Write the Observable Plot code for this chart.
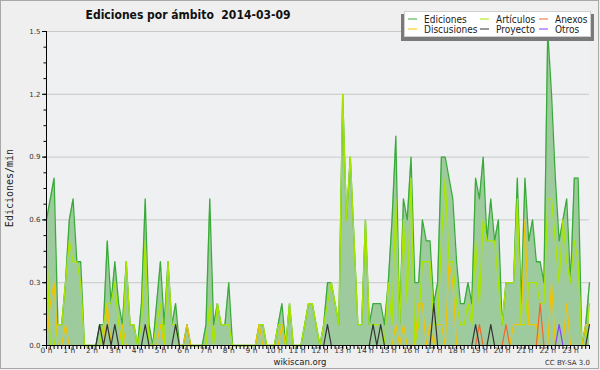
<!DOCTYPE html>
<html><head><meta charset="utf-8">
<script src="https://cdn.jsdelivr.net/npm/d3@7"></script>
<script src="https://cdn.jsdelivr.net/npm/@observablehq/plot@0.6"></script>
<style>
html,body{margin:0;padding:0;background:#efefef;}
#wrap{position:relative;width:600px;height:370px;overflow:hidden;background:#efefef;}
#wrap svg{position:absolute;left:0;top:0;}
</style></head><body><div id="wrap"></div>
<script>
// 10-minute samples, 0h00 .. 23h50 (edits per minute)
const ediciones = [
 0.6,0.7,0.8,0.1,0.1,0.3, 0.6,0.7,0.4,0.4,0,0, 0,0,0.1,0.1,0.5,0.2, 0.4,0.2,0.1,0.4,0.1,0.1,
 0,0.2,0.7,0.1,0,0.2, 0.4,0.1,0.4,0.1,0.2,0, 0,0.1,0,0,0,0, 0.1,0.7,0.1,0.2,0.1,0.1,
 0.3,0,0,0,0,0, 0,0,0.1,0.1,0,0, 0,0.1,0.2,0,0.2,0, 0,0,0.1,0.2,0.2,0.1,
 0,0.1,0.3,0.3,0.2,0.1, 1.2,0.6,0.9,0.5,0.1,0.1, 0.6,0.1,0.2,0.2,0.2,0.1, 0.3,0.6,1.0,0.1,0.7,0.6,
 0.9,0.3,0.3,0.6,0.5,0.5, 0.2,0.3,0.9,0.9,0.8,0.7, 0.4,0.2,0.2,0.3,0.2,0.8, 0.7,0.9,0.5,0.7,0.5,0.6,
 0.1,0.3,0.3,0.3,0.8,0.2, 0.8,0.5,0.6,0.4,0.4,0.3, 1.5,1.2,0.8,0.5,0.6,0.7, 0.3,0.8,0.8,0,0.1,0.3
];
const articulos = [
 0.5,0,0,0.1,0.1,0.3, 0.5,0.4,0.4,0.3,0,0, 0,0,0,0.1,0.2,0.2, 0.3,0.1,0,0.4,0.1,0.1,
 0,0.1,0.5,0,0,0.1, 0.2,0,0.4,0.1,0.1,0, 0,0,0,0,0,0, 0,0.2,0,0.2,0.1,0.1,
 0.1,0,0,0,0,0, 0,0,0.1,0.1,0,0, 0,0.1,0.1,0,0.2,0, 0,0,0.1,0.2,0.2,0.1,
 0,0.1,0.2,0.3,0.2,0.1, 1.2,0.6,0.9,0.5,0.1,0.1, 0.6,0.1,0.1,0.1,0.1,0, 0.3,0.1,0.7,0.1,0.6,0.2,
 0.8,0,0.1,0.4,0.4,0.4, 0.1,0.1,0.5,0.8,0.4,0.4, 0.2,0.1,0.1,0.2,0.1,0.5, 0.2,0.6,0.5,0.5,0.5,0.3,
 0.1,0.3,0.3,0.3,0.7,0.1, 0.1,0.3,0.3,0.3,0.2,0.2, 0.7,0.7,0.5,0.3,0.6,0.4, 0.3,0.5,0.4,0,0,0.2
];
const discusiones = [
 0,0.2,0.3,0,0,0.1, 0,0,0,0,0,0, 0,0,0,0,0.2,0, 0,0,0.1,0,0,0,
 0,0,0,0,0,0, 0.1,0,0,0,0,0, 0,0.1,0,0,0,0, 0,0,0,0,0,0,
 0,0,0,0,0,0, 0,0,0.1,0,0,0, 0,0,0.1,0,0,0, 0,0,0,0,0,0,
 0,0,0,0,0,0, 0,0,0,0,0,0, 0,0,0,0,0,0, 0,0,0.1,0,0.1,0,
 0,0,0.2,0.2,0,0.1, 0,0.1,0.1,0,0.4,0.3, 0,0,0,0,0,0, 0,0,0,0,0,0,
 0,0,0,0.1,0.1,0.1, 0.6,0.1,0.1,0.1,0,0, 0,0.3,0,0,0,0.2, 0,0,0,0,0.1,0.1
];
const anexos = [
 0,0,0,0,0,0, 0,0,0,0,0,0, 0,0,0,0,0,0, 0,0,0,0,0,0,
 0,0,0,0,0,0, 0,0,0,0,0,0, 0,0,0,0,0,0, 0,0,0,0,0,0,
 0,0,0,0,0,0, 0,0,0,0,0,0, 0,0,0,0,0,0, 0,0,0,0,0,0,
 0,0,0,0,0,0, 0,0,0,0,0,0, 0,0,0,0,0,0, 0,0,0,0,0,0,
 0,0,0,0,0,0, 0,0,0,0,0,0, 0,0,0,0,0,0, 0.1,0,0,0,0,0,
 0,0.1,0,0,0,0, 0,0,0,0,0.2,0, 0,0,0,0,0,0, 0,0,0,0,0,0
];
const proyecto = [
 0,0,0,0,0,0, 0,0,0,0,0,0, 0,0,0.1,0,0.1,0, 0.1,0,0,0,0,0,
 0,0,0.1,0,0,0, 0,0,0,0,0.1,0, 0,0,0,0,0,0, 0,0,0,0,0,0,
 0,0,0,0,0,0, 0,0,0,0,0,0, 0,0,0,0,0,0, 0,0,0,0,0,0,
 0,0,0.1,0,0,0, 0,0,0,0,0,0, 0,0,0.1,0,0.1,0, 0,0,0,0,0,0,
 0,0,0,0,0,0, 0.2,0,0,0,0,0, 0,0,0,0,0,0.1, 0,0,0,0.1,0,0,
 0,0,0,0,0,0, 0,0,0,0,0,0, 0,0,0,0,0,0, 0,0,0,0,0,0.1
];
const otros = [
 0,0,0,0,0,0, 0,0,0,0,0,0, 0,0,0,0,0,0, 0,0,0,0,0,0,
 0,0,0,0,0,0, 0,0,0,0,0,0, 0,0,0,0,0,0, 0,0,0,0,0,0,
 0,0,0,0,0,0, 0,0,0,0,0,0, 0,0,0,0,0,0, 0,0,0,0,0,0,
 0,0,0,0,0,0, 0,0,0,0,0,0, 0,0,0,0,0,0, 0,0,0,0,0,0,
 0,0,0,0,0,0, 0,0,0,0,0,0, 0,0,0,0,0,0, 0,0,0,0,0,0,
 0,0,0,0,0,0, 0,0,0,0,0,0, 0,0,0,0.1,0,0, 0,0,0,0,0,0
];
const hourTicks = d3.range(0, 24);
const yMajor = [0, 0.3, 0.6, 0.9, 1.2, 1.5];
const seriesNames = ["Ediciones","Artículos","Anexos","Discusiones","Proyecto","Otros"];
const seriesColors = ["#3aab3a","#a8e600","#f2662a","#f2c300","#333333","#8a3ffc"];

const col = Object.fromEntries(seriesNames.map((n,i)=>[n, seriesColors[i]]));
const t = d3.range(ediciones.length).map(i => i/6);
const rows = t.map((x,i)=>({t:x, ed:ediciones[i], ar:articulos[i], di:discusiones[i], an:anexos[i], pr:proyecto[i], ot:otros[i]}));
const yMinor = d3.range(0, 1.5001, 0.075);
const xMinor = t;

const font = "'DejaVu Sans', sans-serif";
const plot = Plot.plot({
  width: 600, height: 370,
  marginLeft: 46, marginRight: 11, marginTop: 31, marginBottom: 25,
  style: {background: "transparent", fontFamily: font, color: "#333"},
  x: {domain: [0, t[t.length-1]], axis: null},
  y: {domain: [0, 1.5], axis: null},
  marks: [
    Plot.frame({fill: "#eef0f1", stroke: null}),
    Plot.ruleY(yMajor.slice(1), {stroke: "#c9c9c9", strokeWidth: 1}),
    Plot.areaY(rows, {x: "t", y: "ed", fill: "#9ecb9e"}),
    Plot.line(rows, {x: "t", y: "ed", stroke: col["Ediciones"], strokeWidth: 1.3}),
    Plot.line(rows, {x: "t", y: "ar", stroke: col["Artículos"], strokeWidth: 1.3}),
    Plot.line(rows, {x: "t", y: "di", stroke: col["Discusiones"], strokeWidth: 1.2}),
    Plot.line(rows, {x: "t", y: "an", stroke: col["Anexos"], strokeWidth: 1.2}),
    Plot.line(rows, {x: "t", y: "pr", stroke: col["Proyecto"], strokeWidth: 1.2}),
    Plot.line(rows, {x: "t", y: "ot", stroke: col["Otros"], strokeWidth: 1.2}),
    Plot.ruleX([0], {stroke: "#000"}),
    Plot.ruleY([0], {stroke: "#000"}),
    Plot.axisY({ticks: yMinor, tickSize: 2.5, tickFormat: () => "", label: null, stroke: "#000"}),
    Plot.axisY({ticks: yMajor, tickSize: 4, tickPadding: 2, tickFormat: d3.format(".1f"), label: null, fontSize: 7, stroke: "#000", fill: "#333"}),
    Plot.axisX({ticks: xMinor, tickSize: 4, tickFormat: () => "", label: null, stroke: "#000"}),
    Plot.axisX({ticks: hourTicks, tickSize: 4, tickPadding: -2, tickFormat: d => `${d} h`, label: null, fontSize: 7.5, stroke: "#000", fill: "#333"})
  ]
});
const wrap = document.getElementById("wrap");
wrap.appendChild(plot);

// overlay: title, axis title, legend, footer, frame
const svg = d3.select(wrap).append("svg").attr("width", 600).attr("height", 370)
  .style("font-family", "'DejaVu Sans Condensed', 'DejaVu Sans', sans-serif").style("font-stretch", "condensed");
svg.append("text").attr("x", 188).attr("y", 18.5).attr("text-anchor", "middle")
  .attr("font-weight", "bold").attr("font-size", 12).attr("fill", "#111")
  .style("white-space", "pre").attr("xml:space", "preserve")
  .text("Ediciones por ámbito\u00a0 2014-03-09");
svg.append("text").attr("transform", "translate(13,188) rotate(-90)").attr("text-anchor", "middle")
  .attr("font-family", "'DejaVu Sans Mono', monospace").attr("font-size", 10).attr("fill", "#222")
  .style("font-stretch", "normal").text("Ediciones/min");
// legend
svg.append("rect").attr("x", 401).attr("y", 14).attr("width", 193).attr("height", 27).attr("fill", "#7a7a7a");
svg.append("rect").attr("x", 404.5).attr("y", 11.5).attr("width", 186).attr("height", 25).attr("fill", "#fff").attr("stroke", "#d0d0d0");
const lx = [408, 480, 539], tx = [424, 496, 555], ly = [19, 29], ty = [22.5, 32.5];
seriesNames.forEach((n, i) => {
  const c = i % 3, r = Math.floor(i / 3);
  svg.append("line").attr("x1", lx[c]).attr("x2", lx[c] + 9).attr("y1", ly[r]).attr("y2", ly[r])
    .attr("stroke", col[n]).attr("stroke-width", 1);
  svg.append("text").attr("x", tx[c]).attr("y", ty[r]).attr("font-size", 10).attr("fill", "#222").text(n);
});
svg.append("text").attr("x", 300).attr("y", 365).attr("text-anchor", "middle").attr("font-size", 8.5)
  .attr("fill", "#222").style("font-stretch", "normal").style("font-family", "'DejaVu Sans', sans-serif").text("wikiscan.org");
svg.append("text").attr("x", 590).attr("y", 365).attr("text-anchor", "end").attr("font-size", 7)
  .attr("fill", "#333").style("font-stretch", "normal").style("font-family", "'DejaVu Sans', sans-serif").text("CC BY-SA 3.0");
svg.append("rect").attr("x", 0.5).attr("y", 0.5).attr("width", 598).attr("height", 368)
  .attr("fill", "none").attr("stroke", "#a8a8a8");
</script></body></html>
